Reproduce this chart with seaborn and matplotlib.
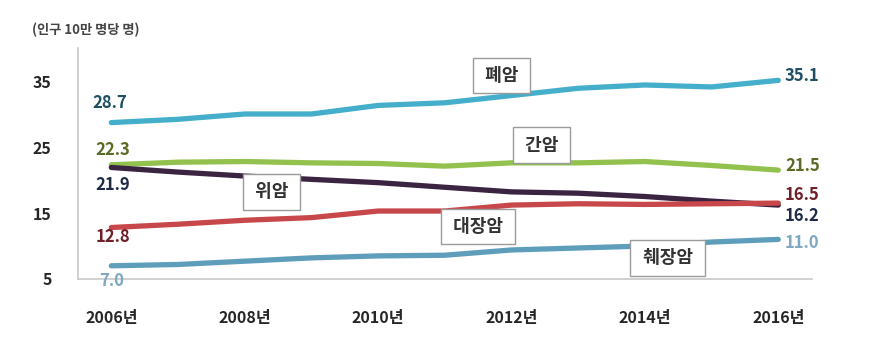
import numpy as np
import pandas as pd
import matplotlib
matplotlib.use("Agg")
import matplotlib.pyplot as plt
import seaborn as sns

# 암 사망률 (인구 10만 명당 명), 2006~2016
years = list(range(2006, 2017))
lung = [28.7, 29.2, 30.0, 30.0, 31.3, 31.7, 32.8, 33.9, 34.4, 34.1, 35.1]
liver = [22.3, 22.7, 22.8, 22.6, 22.5, 22.1, 22.6, 22.6, 22.8, 22.2, 21.5]
stomach = [21.9, 21.2, 20.6, 20.1, 19.6, 18.9, 18.2, 18.0, 17.5, 16.8, 16.2]
colon = [12.8, 13.3, 13.9, 14.3, 15.3, 15.3, 16.2, 16.4, 16.3, 16.4, 16.5]
pancreas = [7.0, 7.2, 7.7, 8.2, 8.5, 8.6, 9.4, 9.7, 10.0, 10.6, 11.0]

names = ["폐암", "간암", "위암", "대장암", "췌장암"]
series = [lung, liver, stomach, colon, pancreas]
line_colors = ["#45afcb", "#93c14e", "#3a2442", "#c8474a", "#5e9ebb"]
text_colors = ["#1e4f63", "#5b6a24", "#202a45", "#6e1f27", "#7fa9c2"]

rows = []
for n, s in zip(names, series):
    for i, v in enumerate(s):
        rows.append({"idx": i, "value": v, "cancer": n})
df = pd.DataFrame(rows)

sns.set_style("white")
plt.rcParams["font.family"] = ["Noto Sans CJK KR", "DejaVu Sans"]

fig = plt.figure(figsize=(8.89, 3.57), dpi=100)
ax = fig.add_axes([0.0877, 0.2185, 0.8253, 0.647])

sns.lineplot(data=df, x="idx", y="value", hue="cancer", palette=dict(zip(names, line_colors)),
             linewidth=3.8, legend=False, ax=ax, solid_capstyle="round")

ax.set_xlim(-0.5, 10.5)
ax.set_ylim(5, 40)
ax.set_yticks([5, 15, 25, 35])
ax.set_yticklabels(["5", "15", "25", "35"], fontweight="bold", fontsize=11.5)
ax.set_xticks([0, 2, 4, 6, 8, 10])
ax.set_xticklabels([f"{y}년" for y in years[::2]], fontweight="bold", fontsize=11.5)
ax.set_xticks([1.5, 3.5, 5.5, 7.5, 9.5], minor=True)
ax.tick_params(axis="x", which="major", length=0, pad=22)
ax.tick_params(axis="x", which="minor", length=5, color="#bbbbbb", direction="out")
ax.tick_params(axis="y", length=5, color="#bbbbbb", direction="out", pad=14)
ax.set_xlabel("")
ax.set_ylabel("")
for side in ["top", "right"]:
    ax.spines[side].set_visible(False)
for side in ["left", "bottom"]:
    ax.spines[side].set_color("#c8c8c8")
    ax.spines[side].set_linewidth(1.2)

# 시작/끝 값 라벨
start_off = [(-0.03, 3.0), (0.02, 2.2), (0.02, -2.7), (0.02, -1.4), (0.0, -2.3)]
end_off = [(0.1, 0.7), (0.1, 0.6), (0.1, -1.7), (0.1, 1.2), (0.1, -0.5)]
for s, c, so, eo in zip(series, text_colors, start_off, end_off):
    ax.text(0 + so[0], s[0] + so[1], f"{s[0]:.1f}", color=c, fontsize=12,
            fontweight="bold", ha="center", va="center", clip_on=False)
    ax.text(10 + eo[0], s[-1] + eo[1], f"{s[-1]:.1f}", color=c, fontsize=12,
            fontweight="bold", ha="left", va="center", clip_on=False)

# 박스 라벨
box_pos = [(5.85, 35.8), (6.45, 25.3), (2.4, 18.2), (5.5, 12.9), (8.34, 8.2)]
for n, (bx, by) in zip(names, box_pos):
    ax.text(bx, by, f" {n} ", fontsize=13, fontweight="bold", color="#333333", ha="center", va="center",
            bbox=dict(boxstyle="square,pad=0.45", fc="white", ec="#9a9a9a", lw=1.0))

fig.text(0.036, 0.915, "(인구 10만 명당 명)", fontsize=9.5, color="#444444", fontweight="bold",
         ha="left", va="center")

fig.savefig("out.png", dpi=100)
